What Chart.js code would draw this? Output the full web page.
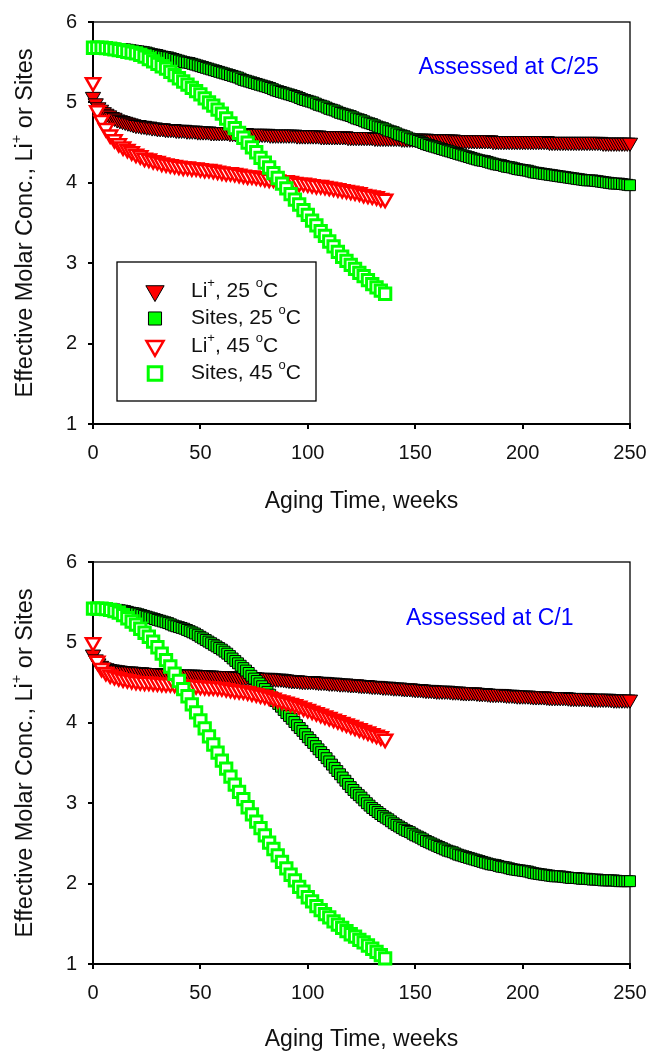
<html>
  <head>
    <meta charset="UTF-8">
    <title>Effective Molar Conc. vs Aging Time</title>
    <script src="https://cdn.jsdelivr.net/npm/chart.js@4.4.1/dist/chart.umd.min.js"></script>
    <style>
      body { margin: 0; background: #fff; }
      canvas { display: block; }
    </style>
  </head>
  <body>
    <canvas id="chartC25" width="650" height="527"></canvas>
    <canvas id="chartC1" width="650" height="526"></canvas>

    <script>
      // aging time (weeks) of each point: 25 oC runs go to 250 weeks, 45 oC runs stop at 136
      const weeks25 = [0,1.25,2.5,3.75,5,6.25,7.5,8.75,10,11.25,12.5,13.75,15,16.25,17.5,18.75,20,21.25,22.5,23.75,
        25,26.25,27.5,28.75,30,31.25,32.5,33.75,35,36.25,37.5,38.75,40,41.25,42.5,43.75,45,46.25,47.5,48.75,
        50,51.25,52.5,53.75,55,56.25,57.5,58.75,60,61.25,62.5,63.75,65,66.25,67.5,68.75,70,71.25,72.5,73.75,
        75,76.25,77.5,78.75,80,81.25,82.5,83.75,85,86.25,87.5,88.75,90,91.25,92.5,93.75,95,96.25,97.5,98.75,
        100,101.25,102.5,103.75,105,106.25,107.5,108.75,110,111.25,112.5,113.75,115,116.25,117.5,118.75,120,121.25,122.5,123.75,
        125,126.25,127.5,128.75,130,131.25,132.5,133.75,135,136.25,137.5,138.75,140,141.25,142.5,143.75,145,146.25,147.5,148.75,
        150,151.25,152.5,153.75,155,156.25,157.5,158.75,160,161.25,162.5,163.75,165,166.25,167.5,168.75,170,171.25,172.5,173.75,
        175,176.25,177.5,178.75,180,181.25,182.5,183.75,185,186.25,187.5,188.75,190,191.25,192.5,193.75,195,196.25,197.5,198.75,
        200,201.25,202.5,203.75,205,206.25,207.5,208.75,210,211.25,212.5,213.75,215,216.25,217.5,218.75,220,221.25,222.5,223.75,
        225,226.25,227.5,228.75,230,231.25,232.5,233.75,235,236.25,237.5,238.75,240,241.25,242.5,243.75,245,246.25,247.5,248.75,
        250];
      const weeks45 = [0,2,4,6,8,10,12,14,16,18,
        20,22,24,26,28,30,32,34,36,38,
        40,42,44,46,48,50,52,54,56,58,
        60,62,64,66,68,70,72,74,76,78,
        80,82,84,86,88,90,92,94,96,98,
        100,102,104,106,108,110,112,114,116,118,
        120,122,124,126,128,130,132,134,136];

      // --- assessed at C/25 ---
      const li25C25 = [5.07,4.99,4.94,4.91,4.88,4.86,4.84,4.82,4.81,4.79,4.78,4.77,4.76,4.75,4.74,4.73,4.72,4.72,4.71,4.71,
        4.70,4.70,4.69,4.69,4.68,4.68,4.68,4.67,4.67,4.67,4.67,4.66,4.66,4.66,4.66,4.65,4.65,4.65,4.65,4.64,
        4.64,4.64,4.64,4.64,4.63,4.63,4.63,4.63,4.63,4.63,4.63,4.62,4.62,4.62,4.62,4.62,4.62,4.62,4.61,4.61,
        4.61,4.61,4.61,4.61,4.61,4.61,4.60,4.60,4.60,4.60,4.60,4.60,4.60,4.60,4.60,4.60,4.59,4.59,4.59,4.59,
        4.59,4.59,4.59,4.59,4.59,4.58,4.58,4.58,4.58,4.58,4.58,4.58,4.58,4.58,4.58,4.57,4.57,4.57,4.57,4.57,
        4.57,4.57,4.57,4.57,4.57,4.56,4.56,4.56,4.56,4.56,4.56,4.56,4.56,4.56,4.56,4.55,4.55,4.55,4.55,4.55,
        4.55,4.55,4.55,4.55,4.55,4.54,4.54,4.54,4.54,4.54,4.54,4.54,4.54,4.54,4.54,4.53,4.53,4.53,4.53,4.53,
        4.53,4.53,4.53,4.53,4.53,4.53,4.53,4.53,4.53,4.52,4.52,4.52,4.52,4.52,4.52,4.52,4.52,4.52,4.52,4.52,
        4.52,4.52,4.52,4.52,4.52,4.52,4.52,4.52,4.52,4.52,4.51,4.51,4.51,4.51,4.51,4.51,4.51,4.51,4.51,4.51,
        4.51,4.51,4.51,4.51,4.51,4.51,4.51,4.51,4.51,4.51,4.50,4.50,4.50,4.50,4.50,4.50,4.50,4.50,4.50,4.50,
        4.50];
      const sites25C25 = [5.68,5.68,5.68,5.68,5.68,5.675,5.67,5.67,5.67,5.665,5.66,5.66,5.66,5.655,5.65,5.645,5.64,5.635,5.63,5.625,
        5.62,5.61,5.60,5.595,5.59,5.58,5.57,5.565,5.56,5.55,5.54,5.53,5.52,5.51,5.50,5.495,5.49,5.48,5.47,5.46,
        5.45,5.44,5.43,5.42,5.41,5.40,5.39,5.38,5.37,5.36,5.35,5.34,5.33,5.32,5.31,5.295,5.28,5.27,5.26,5.25,
        5.24,5.23,5.22,5.21,5.20,5.19,5.18,5.165,5.15,5.14,5.13,5.12,5.11,5.10,5.09,5.08,5.07,5.055,5.04,5.03,
        5.02,5.01,5.00,4.985,4.97,4.96,4.95,4.935,4.92,4.91,4.90,4.885,4.87,4.86,4.85,4.84,4.83,4.815,4.80,4.79,
        4.78,4.765,4.75,4.74,4.73,4.715,4.70,4.69,4.68,4.665,4.65,4.64,4.63,4.615,4.60,4.59,4.58,4.565,4.55,4.54,
        4.53,4.52,4.51,4.495,4.48,4.47,4.46,4.45,4.44,4.43,4.42,4.41,4.40,4.39,4.38,4.37,4.36,4.35,4.34,4.33,
        4.32,4.31,4.30,4.29,4.28,4.275,4.27,4.26,4.25,4.24,4.23,4.225,4.22,4.21,4.20,4.195,4.19,4.18,4.17,4.165,
        4.16,4.155,4.15,4.14,4.13,4.125,4.12,4.115,4.11,4.105,4.10,4.095,4.09,4.085,4.08,4.075,4.07,4.065,4.06,4.055,
        4.05,4.045,4.04,4.035,4.03,4.03,4.03,4.025,4.02,4.015,4.01,4.005,4.00,3.995,3.99,3.99,3.99,3.985,3.98,3.975,
        3.97];
      const li45C25 = [5.25,4.90,4.78,4.68,4.60,4.54,4.49,4.45,4.42,4.39,
        4.36,4.34,4.31,4.30,4.28,4.27,4.25,4.24,4.23,4.22,
        4.21,4.20,4.20,4.19,4.19,4.18,4.17,4.17,4.16,4.15,
        4.14,4.13,4.13,4.12,4.11,4.10,4.09,4.09,4.08,4.07,
        4.06,4.05,4.05,4.04,4.03,4.03,4.02,4.01,4.00,4.00,
        3.99,3.98,3.97,3.97,3.96,3.95,3.94,3.93,3.92,3.91,
        3.90,3.89,3.88,3.86,3.85,3.84,3.83,3.81,3.80];
      const sites45C25 = [5.68,5.68,5.68,5.675,5.67,5.66,5.65,5.64,5.63,5.62,
        5.61,5.59,5.57,5.54,5.51,5.48,5.45,5.42,5.38,5.34,
        5.30,5.26,5.22,5.18,5.14,5.10,5.05,5.00,4.96,4.91,
        4.86,4.80,4.74,4.68,4.62,4.56,4.50,4.44,4.38,4.31,
        4.25,4.19,4.12,4.06,3.99,3.93,3.86,3.79,3.73,3.66,
        3.60,3.53,3.47,3.40,3.34,3.27,3.21,3.14,3.08,3.03,
        2.98,2.93,2.88,2.84,2.79,2.74,2.70,2.66,2.62];

      // --- assessed at C/1 ---
      const li25C1 = [4.85,4.79,4.74,4.71,4.69,4.68,4.67,4.665,4.66,4.655,4.65,4.645,4.64,4.64,4.64,4.635,4.63,4.63,4.63,4.625,
        4.62,4.62,4.62,4.62,4.62,4.615,4.61,4.61,4.61,4.61,4.61,4.605,4.60,4.60,4.60,4.60,4.60,4.60,4.60,4.595,
        4.59,4.59,4.59,4.59,4.59,4.585,4.58,4.58,4.58,4.58,4.58,4.58,4.58,4.575,4.57,4.57,4.57,4.57,4.57,4.57,
        4.57,4.565,4.56,4.56,4.56,4.56,4.56,4.555,4.55,4.55,4.55,4.545,4.54,4.535,4.53,4.53,4.53,4.525,4.52,4.52,
        4.52,4.52,4.52,4.515,4.51,4.51,4.51,4.505,4.50,4.50,4.50,4.495,4.49,4.49,4.49,4.485,4.48,4.48,4.48,4.475,
        4.47,4.47,4.47,4.465,4.46,4.46,4.46,4.455,4.45,4.45,4.45,4.445,4.44,4.44,4.44,4.435,4.43,4.43,4.43,4.425,
        4.42,4.42,4.42,4.415,4.41,4.41,4.41,4.405,4.40,4.40,4.40,4.40,4.40,4.395,4.39,4.39,4.39,4.385,4.38,4.38,
        4.38,4.38,4.38,4.375,4.37,4.37,4.37,4.365,4.36,4.36,4.36,4.36,4.36,4.355,4.35,4.35,4.35,4.345,4.34,4.34,
        4.34,4.34,4.34,4.335,4.33,4.33,4.33,4.33,4.33,4.325,4.32,4.32,4.32,4.32,4.32,4.32,4.32,4.315,4.31,4.31,
        4.31,4.31,4.31,4.31,4.31,4.305,4.30,4.30,4.30,4.30,4.30,4.30,4.30,4.295,4.29,4.29,4.29,4.29,4.29,4.29,
        4.29];
      const sites25C1 = [5.42,5.42,5.42,5.42,5.42,5.415,5.41,5.41,5.41,5.405,5.40,5.395,5.39,5.38,5.37,5.365,5.36,5.35,5.34,5.33,
        5.32,5.31,5.30,5.29,5.28,5.27,5.26,5.25,5.24,5.225,5.21,5.20,5.19,5.18,5.17,5.155,5.14,5.125,5.11,5.09,
        5.07,5.05,5.03,5.01,4.99,4.97,4.95,4.93,4.91,4.885,4.86,4.83,4.80,4.77,4.74,4.71,4.68,4.65,4.62,4.585,
        4.55,4.52,4.49,4.455,4.42,4.385,4.35,4.31,4.27,4.235,4.20,4.16,4.12,4.085,4.05,4.01,3.97,3.935,3.90,3.86,
        3.82,3.785,3.75,3.71,3.67,3.635,3.60,3.56,3.52,3.48,3.44,3.40,3.36,3.32,3.28,3.24,3.20,3.165,3.13,3.10,
        3.07,3.035,3.00,2.97,2.94,2.915,2.89,2.865,2.84,2.82,2.80,2.775,2.75,2.73,2.71,2.69,2.67,2.655,2.64,2.62,
        2.60,2.585,2.57,2.55,2.53,2.515,2.50,2.485,2.47,2.455,2.44,2.425,2.41,2.40,2.39,2.375,2.36,2.35,2.34,2.33,
        2.32,2.31,2.30,2.29,2.28,2.27,2.26,2.25,2.24,2.235,2.23,2.22,2.21,2.205,2.20,2.19,2.18,2.175,2.17,2.165,
        2.16,2.155,2.15,2.14,2.13,2.125,2.12,2.115,2.11,2.105,2.10,2.095,2.09,2.09,2.09,2.085,2.08,2.075,2.07,2.07,
        2.07,2.065,2.06,2.06,2.06,2.055,2.05,2.05,2.05,2.045,2.04,2.04,2.04,2.04,2.04,2.035,2.03,2.03,2.03,2.03,
        2.03];
      const li45C1 = [5.00,4.77,4.68,4.63,4.60,4.58,4.565,4.55,4.54,4.53,
        4.52,4.515,4.51,4.51,4.505,4.50,4.495,4.49,4.49,4.485,
        4.48,4.475,4.47,4.47,4.465,4.46,4.455,4.45,4.45,4.445,
        4.44,4.43,4.42,4.41,4.405,4.40,4.39,4.375,4.365,4.35,
        4.34,4.325,4.31,4.29,4.275,4.26,4.245,4.23,4.21,4.19,
        4.17,4.15,4.13,4.11,4.09,4.07,4.05,4.03,4.01,3.99,
        3.97,3.95,3.93,3.91,3.89,3.87,3.85,3.83,3.80];
      const sites45C1 = [5.42,5.42,5.42,5.415,5.405,5.39,5.37,5.34,5.30,5.26,
        5.22,5.17,5.12,5.07,5.01,4.94,4.86,4.78,4.70,4.61,
        4.52,4.42,4.33,4.23,4.13,4.03,3.93,3.83,3.73,3.63,
        3.53,3.43,3.33,3.23,3.14,3.05,2.95,2.86,2.77,2.69,
        2.60,2.51,2.43,2.35,2.27,2.19,2.11,2.04,1.96,1.90,
        1.83,1.78,1.72,1.67,1.62,1.58,1.53,1.49,1.45,1.41,
        1.37,1.34,1.30,1.27,1.23,1.19,1.15,1.11,1.07];

      // series names, superscripts marked with sup
      const seriesLabels = [
        [{text: 'Li'}, {text: '+', sup: true}, {text: ', 25 '}, {text: 'o', sup: true}, {text: 'C'}],
        [{text: 'Sites, 25 '}, {text: 'o', sup: true}, {text: 'C'}],
        [{text: 'Li'}, {text: '+', sup: true}, {text: ', 45 '}, {text: 'o', sup: true}, {text: 'C'}],
        [{text: 'Sites, 45 '}, {text: 'o', sup: true}, {text: 'C'}],
      ];
      const yTitle = [{text: 'Effective Molar Conc., Li'}, {text: '+', sup: true}, {text: ' or Sites'}];
      const xTitle = 'Aging Time, weeks';

      const FONT = '"Liberation Sans", Arial, Helvetica, sans-serif';

      const seriesStyles = [
        {pointStyle: 'triangle', pointRotation: 180, pointRadius: 8.8, backgroundColor: '#ff0000', borderColor: '#000000', borderWidth: 1},
        {pointStyle: 'rect', pointRadius: 7.7, backgroundColor: '#00ff00', borderColor: '#000000', borderWidth: 1},
        {pointStyle: 'triangle', pointRotation: 180, pointRadius: 8.2, backgroundColor: '#ffffff', borderColor: '#ff0000', borderWidth: 2.5},
        {pointStyle: 'rect', pointRadius: 8, backgroundColor: '#ffffff', borderColor: '#00ff00', borderWidth: 3},
      ];

      function toPoints(xs, ys) {
        return ys.map((v, i) => ({x: xs[i], y: v}));
      }

      function makeDatasets(li25, sites25, li45, sites45) {
        const series = [[weeks25, li25], [weeks25, sites25], [weeks45, li45], [weeks45, sites45]];
        return series.map((s, i) => {
          const st = seriesStyles[i];
          return {
            data: toPoints(s[0], s[1]),
            showLine: false,
            clip: false,
            order: 4 - i, // later series drawn on top
            pointStyle: st.pointStyle,
            pointRotation: st.pointRotation || 0,
            pointRadius: st.pointRadius,
            pointBackgroundColor: st.backgroundColor,
            pointBorderColor: st.borderColor,
            pointBorderWidth: st.borderWidth,
          };
        });
      }

      // text with superscripts, y is the middle of the line
      function drawRuns(ctx, runs, x, y, size, align) {
        let total = 0;
        const widths = [];
        for (const r of runs) {
          ctx.font = (r.sup ? size * 0.62 : size) + 'px ' + FONT;
          const w = ctx.measureText(r.text).width;
          widths.push(w);
          total += w;
        }
        let cx = (align === 'center') ? x - total / 2 : x;
        ctx.textAlign = 'left';
        ctx.textBaseline = 'middle';
        runs.forEach((r, i) => {
          ctx.font = (r.sup ? size * 0.62 : size) + 'px ' + FONT;
          ctx.fillText(r.text, cx, r.sup ? y - size * 0.38 : y);
          cx += widths[i];
        });
      }

      const extras = {
        id: 'extras',
        beforeDatasetsDraw(chart) {
          // box round the plot
          const a = chart.chartArea;
          const ctx = chart.ctx;
          ctx.save();
          ctx.strokeStyle = '#000';
          ctx.lineWidth = 1.3;
          ctx.strokeRect(a.left, a.top, a.right - a.left, a.bottom - a.top);
          ctx.restore();
        },
        afterDraw(chart, args, opts) {
          const a = chart.chartArea;
          const ctx = chart.ctx;
          ctx.save();

          // y axis title
          ctx.fillStyle = '#111';
          ctx.translate(25.5, (a.top + a.bottom) / 2);
          ctx.rotate(-Math.PI / 2);
          drawRuns(ctx, yTitle, 0, 0, 23.5, 'center');
          ctx.setTransform(1, 0, 0, 1, 0, 0);

          // note in the corner
          const nx = chart.scales.x.getPixelForValue(opts.noteX);
          const ny = chart.scales.y.getPixelForValue(opts.noteY);
          ctx.fillStyle = '#0000ff';
          drawRuns(ctx, [{text: opts.note}], nx, ny, 23, 'center');

          if (opts.legend) {
            const bx = a.left + 24, by = a.top + 240, bw = 199, bh = 139;
            ctx.fillStyle = '#fff';
            ctx.fillRect(bx, by, bw, bh);
            ctx.strokeStyle = '#000';
            ctx.lineWidth = 1.3;
            ctx.strokeRect(bx, by, bw, bh);
            const sets = chart.data.datasets;
            for (let i = 0; i < 4; i++) {
              const ds = sets[i];
              const ry = by + 29 + i * 27.5;
              ctx.fillStyle = ds.pointBackgroundColor;
              ctx.strokeStyle = ds.pointBorderColor;
              ctx.lineWidth = ds.pointBorderWidth;
              Chart.helpers.drawPoint(ctx, {
                pointStyle: ds.pointStyle,
                rotation: ds.pointRotation,
                radius: ds.pointRadius * 1.2,
                borderWidth: ds.pointBorderWidth,
              }, bx + 38, ry);
              ctx.fillStyle = '#111';
              drawRuns(ctx, seriesLabels[i], bx + 74, ry, 21, 'left');
            }
          }
          ctx.restore();
        }
      };

      function makeOptions(padTop, padBottom, xHeight, note, noteX, noteY, legend) {
        return {
          responsive: false,
          animation: false,
          events: [],
          layout: {
            padding: {top: padTop, right: 20, bottom: padBottom, left: 0}
          },
          scales: {
            x: {
              type: 'linear',
              min: 0,
              max: 250,
              afterFit: (scale) => {
                scale.height = xHeight;
                scale.paddingLeft = 0;
                scale.paddingRight = 0;
              },
              border: {display: true, color: '#000', width: 2},
              grid: {drawOnChartArea: false, drawTicks: true, tickLength: 5, color: '#000', lineWidth: 2},
              ticks: {stepSize: 50, padding: 12, color: '#111', font: {family: FONT, size: 20}},
              title: {display: true, text: xTitle, color: '#111', padding: 0, font: {family: FONT, size: 23}},
            },
            y: {
              min: 1,
              max: 6,
              afterFit: (scale) => {
                scale.width = 93;
                scale.paddingTop = 0;
                scale.paddingBottom = 0;
              },
              border: {display: true, color: '#000', width: 2},
              grid: {drawOnChartArea: false, drawTicks: true, tickLength: 5, color: '#000', lineWidth: 2},
              ticks: {stepSize: 1, padding: 11, color: '#111', font: {family: FONT, size: 20}},
              title: {display: false},
            }
          },
          plugins: {
            legend: {display: false},
            tooltip: {enabled: false},
            extras: {note: note, noteX: noteX, noteY: noteY, legend: legend},
          }
        };
      }

      new Chart(document.getElementById('chartC25'), {
        type: 'scatter',
        data: {datasets: makeDatasets(li25C25, sites25C25, li45C25, sites45C25)},
        options: makeOptions(22, 12, 91, 'Assessed at C/25', 193.5, 5.43, true),
        plugins: [extras],
      });

      new Chart(document.getElementById('chartC1'), {
        type: 'scatter',
        data: {datasets: makeDatasets(li25C1, sites25C1, li45C1, sites45C1)},
        options: makeOptions(35, 0, 89, 'Assessed at C/1', 184.7, 5.30, false),
        plugins: [extras],
      });
    </script>
  </body>
</html>
